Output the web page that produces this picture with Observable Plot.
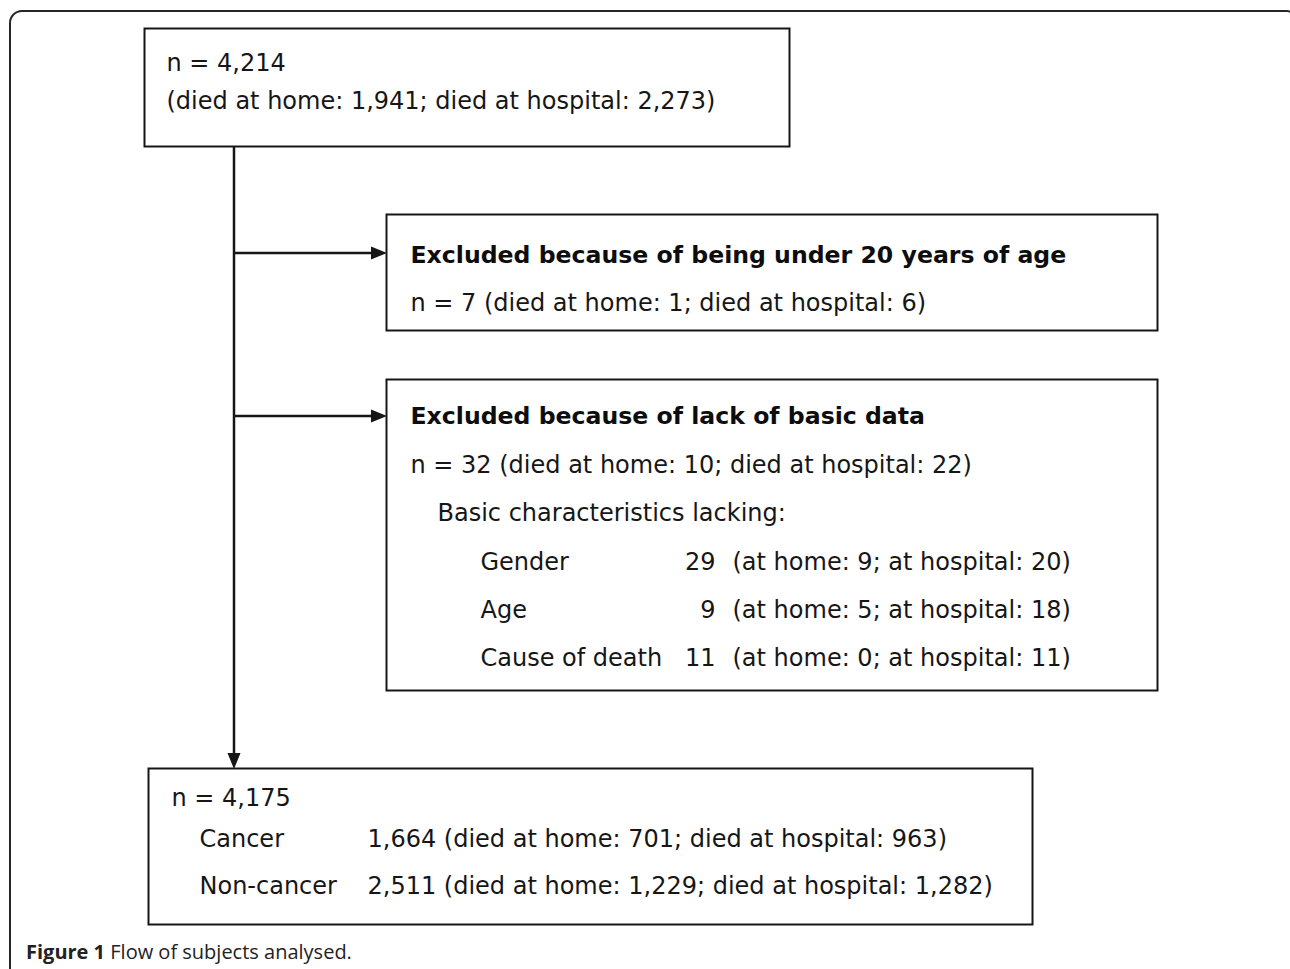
<!DOCTYPE html>
<html><head><meta charset="utf-8">
<script src="https://cdn.jsdelivr.net/npm/d3@7"></script>
<script src="https://cdn.jsdelivr.net/npm/@observablehq/plot@0.6"></script>
<style>
html,body{margin:0;padding:0;background:#fff;overflow:hidden;width:1290px;height:969px}
#frame{position:absolute;left:9px;top:10px;width:1285px;height:1000px;box-sizing:border-box;border:2px solid #262626;border-bottom:none;border-radius:13px 7px 0 0;pointer-events:none;z-index:2}
#chart{position:absolute;left:0;top:0}
#chart svg{display:block}
#caption{position:absolute;left:26px;top:940px;font-family:"Open Sans";font-size:20px;color:#222;line-height:24px;white-space:nowrap}
#caption b{font-weight:700}
</style></head><body>
<div id="frame"></div>
<div id="chart"></div>
<div id="caption"><b>Figure 1</b> Flow of subjects analysed.</div>
<script>
// ---- content (values) ----
const totalN = 4214, totalHome = 1941, totalHospital = 2273;
const exclusionTitles = ["Excluded because of being under 20 years of age", "Excluded because of lack of basic data"];
const exclusionN = [7, 32];
const exclusionHome = [1, 10];
const exclusionHospital = [6, 22];
const lackingHeader = "Basic characteristics lacking:";
const lackingItems = ["Gender", "Age", "Cause of death"];
const lackingN = [29, 9, 11];
const lackingHome = [9, 5, 0];
const lackingHospital = [20, 18, 11];
const finalN = 4175;
const groups = ["Cancer", "Non-cancer"];
const groupN = [1664, 2511];
const groupHome = [701, 1229];
const groupHospital = [963, 1282];

// ---- layout (diagram coordinates, pixels) ----
const boxes = [
  {id: "start",  x1: 145, x2: 790,  y1: 29,  y2: 147},
  {id: "excl1",  x1: 387, x2: 1158, y1: 215, y2: 331},
  {id: "excl2",  x1: 387, x2: 1158, y1: 380, y2: 691},
  {id: "final",  x1: 149, x2: 1033, y1: 769, y2: 925}
];
const trunkX = 234;
const branchY = [253, 416];
const headLen = 16;

const f = d3.format(",");

// text rows
const regular = [];
const bold = [];
const rightAligned = [];
regular.push({x: 166, y: 70, t: `n = ${f(totalN)}`});
regular.push({x: 166, y: 108, t: `(died at home: ${f(totalHome)}; died at hospital: ${f(totalHospital)})`});
const exclTitleY = [262, 423], exclCountY = [310, 472];
exclusionTitles.forEach((s, i) => {
  bold.push({x: 410, y: exclTitleY[i], t: s});
  regular.push({x: 410, y: exclCountY[i], t: `n = ${exclusionN[i]} (died at home: ${exclusionHome[i]}; died at hospital: ${exclusionHospital[i]})`});
});
regular.push({x: 437, y: 520, t: lackingHeader});
const itemY = [569, 617, 665];
lackingItems.forEach((s, i) => {
  regular.push({x: 480, y: itemY[i], t: s});
  rightAligned.push({x: 715, y: itemY[i], t: String(lackingN[i])});
  regular.push({x: 732, y: itemY[i], t: `(at home: ${lackingHome[i]}; at hospital: ${lackingHospital[i]})`});
});
regular.push({x: 171, y: 805, t: `n = ${f(finalN)}`});
const groupY = [846, 893];
groups.forEach((s, i) => {
  regular.push({x: 199, y: groupY[i], t: s});
  regular.push({x: 367, y: groupY[i], t: `${f(groupN[i])} (died at home: ${f(groupHome[i])}; died at hospital: ${f(groupHospital[i])})`});
});

// connectors
const start = boxes[0], excl = boxes.slice(1, 3), fin = boxes[3];
const lines = [
  {x1: trunkX, y1: start.y2, x2: trunkX, y2: fin.y1 - headLen + 1},
  ...branchY.map((y, i) => ({x1: trunkX, y1: y, x2: excl[i].x1 - headLen + 1, y2: y}))
];
const heads = [
  {x: trunkX, y: fin.y1, rotate: 90},
  ...branchY.map((y, i) => ({x: excl[i].x1, y, rotate: 0}))
];
const arrowHead = {
  draw(ctx) {
    ctx.moveTo(0, 0);
    ctx.lineTo(-16, -6.5);
    ctx.lineTo(-16, 6.5);
    ctx.closePath();
  }
};

const ink = "#161616";
const font = "DejaVu Sans";
const chart = Plot.plot({
  width: 1290,
  height: 935,
  margin: 0,
  axis: null,
  x: {type: "identity"},
  y: {type: "identity"},
  style: {background: "transparent", overflow: "visible"},
  marks: [
    Plot.rect(boxes, {x1: "x1", x2: "x2", y1: "y1", y2: "y2", fill: "white", stroke: ink, strokeWidth: 2, dx: -0.5, dy: -0.5}),
    Plot.link(lines, {x1: "x1", y1: "y1", x2: "x2", y2: "y2", stroke: ink, strokeWidth: 2.5, dx: -0.5, dy: -0.5}),
    Plot.dot(heads, {x: "x", y: "y", rotate: "rotate", symbol: arrowHead, fill: ink, stroke: "none", dx: -0.5, dy: -0.5}),
    Plot.text(regular, {x: "x", y: "y", text: "t", textAnchor: "start", lineAnchor: "bottom", fontSize: 24, fontFamily: font, fill: ink}),
    Plot.text(rightAligned, {x: "x", y: "y", text: "t", textAnchor: "end", lineAnchor: "bottom", fontSize: 24, fontFamily: font, fill: ink}),
    Plot.text(bold, {x: "x", y: "y", text: "t", textAnchor: "start", lineAnchor: "bottom", fontSize: 23.6, fontWeight: "bold", fontFamily: font, fill: "#0d0d0d"})
  ]
});
document.getElementById("chart").appendChild(chart);
</script>
</body></html>
